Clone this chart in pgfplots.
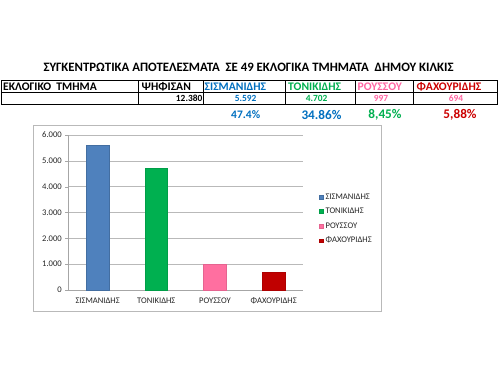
\documentclass[border=0pt]{standalone}
\usepackage{pgfplots}
\pgfplotsset{compat=1.18}
\usepackage{fontspec}
\setmainfont{Carlito}
\definecolor{barblue}{HTML}{4F81BD}
\definecolor{bargreen}{HTML}{00B050}
\definecolor{barpink}{HTML}{FF6FA0}
\definecolor{barred}{HTML}{C00000}
\definecolor{txtblue}{HTML}{0070C0}
\definecolor{txtgreen}{HTML}{00B050}
\definecolor{txtpink}{HTML}{FF66A3}
\definecolor{txtred}{HTML}{CC0000}
\begin{document}
\begin{tikzpicture}
\begin{scope}[x=1pt,y=-1pt]
\path[fill=white] (0,0) rectangle (500,375);
\node[font=\bfseries\fontsize{12.8}{14}\selectfont] at (248.5,67) {ΣΥΓΚΕΝΤΡΩΤΙΚΑ ΑΠΟΤΕΛΕΣΜΑΤΑ\ \ ΣΕ 49 ΕΚΛΟΓΙΚΑ ΤΜΗΜΑΤΑ\ \ ΔΗΜΟΥ ΚΙΛΚΙΣ};
\draw[line width=0.8pt] (1,80.5) rectangle (497,104.5);
\draw[line width=0.6pt] (1,92.5) -- (497,92.5);
\foreach \xx in {138.3,203.3,285,355,413.3} \draw[line width=0.6pt] (\xx,80.5) -- (\xx,104.5);
\begin{scope}[every node/.style={font=\bfseries\fontsize{11.6}{13}\selectfont, inner sep=0pt, anchor=west}]
\node at (3,86.7) {ΕΚΛΟΓΙΚΟ\ \ ΤΜΗΜΑ};
\node at (141.5,86.7) {ΨΗΦΙΣΑΝ};
\node[text=txtblue] at (204.5,86.7) {ΣΙΣΜΑΝΙΔΗΣ};
\node[text=txtgreen] at (288,86.7) {ΤΟΝΙΚΙΔΗΣ};
\node[text=txtpink] at (357.5,86.7) {ΡΟΥΣΣΟΥ};
\node[text=txtred] at (416.5,86.7) {ΦΑΧΟΥΡΙΔΗΣ};
\end{scope}
\begin{scope}[every node/.style={font=\bfseries\fontsize{9.4}{10}\selectfont, inner sep=0pt}]
\node[anchor=east] at (202.5,98.5) {12.380};
\node[text=txtblue] at (245.7,98.5) {5.592};
\node[text=txtgreen] at (316.7,98.5) {4.702};
\node[text=txtpink] at (381,98.5) {997};
\node[text=txtpink] at (456,98.5) {694};
\end{scope}
\node[text=txtblue, font=\bfseries\fontsize{11.5}{12}\selectfont] at (245.7,115) {47.4\%};
\node[text=txtblue, font=\bfseries\fontsize{13.2}{14}\selectfont] at (321.5,115) {34.86\%};
\node[text=txtgreen, font=\bfseries\fontsize{13.2}{14}\selectfont] at (385,115) {8,45\%};
\node[text=txtred, font=\bfseries\fontsize{13.2}{14}\selectfont] at (460,115) {5,88\%};
\draw[gray!55, line width=0.6pt] (33.5,125) rectangle (381.5,311.7);
\end{scope}
\begin{axis}[
  at={(68.3pt,-290pt)}, anchor=south west,
  scale only axis, width=234.7pt, height=155pt,
  xmin=-0.5, xmax=3.5, ymin=0, ymax=6000,
  ybar, bar width=22.7pt, bar shift=0pt,
  axis x line*=bottom, axis y line*=left,
  axis line style={draw=gray!70, line width=0.5pt},
  ymajorgrids, grid style={gray!55, line width=0.5pt},
  ytick={0,1000,2000,3000,4000,5000,6000},
  xtick={0,1,2,3},
  xticklabels={ΣΙΣΜΑΝΙΔΗΣ,ΤΟΝΙΚΙΔΗΣ,ΡΟΥΣΣΟΥ,ΦΑΧΟΥΡΙΔΗΣ},
  x tick style={draw=none},
  extra x ticks={-0.5,0.5,1.5,2.5,3.5},
  extra x tick labels={},
  extra x tick style={tick style={draw=gray!70}, major tick length=3pt, tick align=outside, grid=none},
  y tick style={draw=gray!70},
  tick align=outside, major tick length=3pt,
  scaled y ticks=false,
  yticklabel style={/pgf/number format/.cd, 1000 sep={.}, assume math mode=true},
  ticklabel style={font=\fontsize{8.6}{9}\selectfont, text=black!85},
  xticklabel style={yshift=-1pt},
  legend style={at={(1.068,0.458)}, anchor=west, draw=none, fill=none,
    font=\fontsize{8.6}{9}\selectfont, legend cell align=left, row sep=6pt,
    inner sep=0pt, nodes={inner sep=0.7pt, text=black!85}},
  legend image code/.code={\fill[#1] (0pt,-1.9pt) rectangle (3.8pt,1.9pt); \path (5.3pt,0pt);},
]
\addplot[fill=barblue, draw=barblue!85!black] coordinates {(0,5592)};
\addplot[fill=bargreen, draw=bargreen!90!black] coordinates {(1,4702)};
\addplot[fill=barpink, draw=barpink!90!black] coordinates {(2,997)};
\addplot[fill=barred, draw=barred!90!black] coordinates {(3,694)};
\legend{ΣΙΣΜΑΝΙΔΗΣ,ΤΟΝΙΚΙΔΗΣ,ΡΟΥΣΣΟΥ,ΦΑΧΟΥΡΙΔΗΣ}
\end{axis}
\end{tikzpicture}
\end{document}
